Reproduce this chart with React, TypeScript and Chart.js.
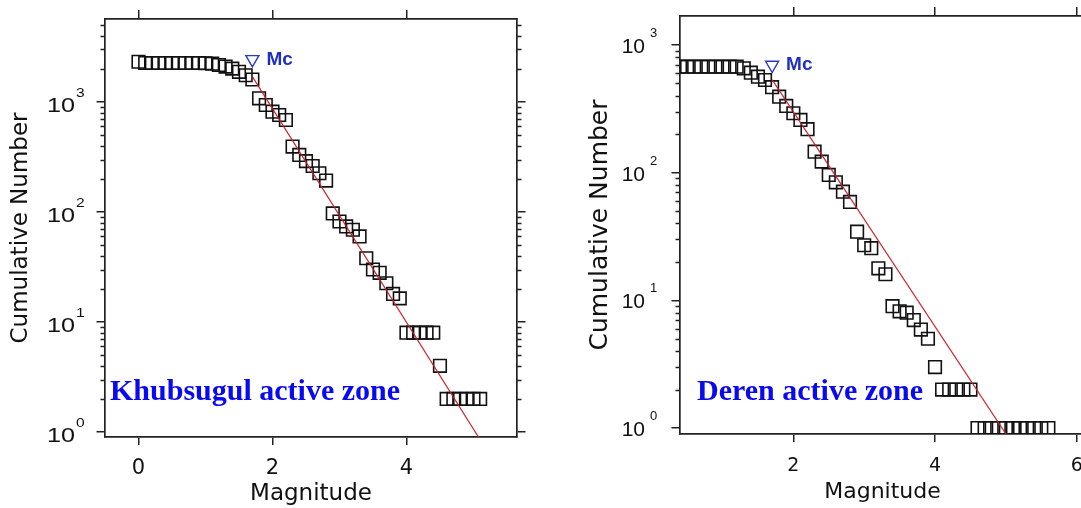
import React, { useEffect, useRef } from "react";
import { Chart, registerables } from "chart.js";

Chart.register(...registerables);

// ---------------- Data ----------------
// Khubsugul active zone
const khubMag = [
  0.0, 0.1, 0.2, 0.3, 0.4, 0.5, 0.6, 0.7, 0.8, 0.9,
  1.0, 1.1, 1.2, 1.3, 1.4, 1.5, 1.6, 1.7, 1.8, 1.9,
  2.0, 2.1, 2.2, 2.3, 2.4, 2.5, 2.6, 2.7, 2.8, 2.9,
  3.0, 3.1, 3.2, 3.3, 3.4, 3.5, 3.6, 3.7, 3.8, 3.9,
  4.0, 4.1, 4.2, 4.3, 4.4, 4.5, 4.6, 4.7, 4.8, 4.9,
  5.0, 5.1,
];
const khubCount = [
  2320, 2260, 2260, 2260, 2260, 2260, 2260, 2260, 2260, 2260,
  2250, 2230, 2170, 2100, 2010, 1880, 1750, 1600, 1080, 939,
  816, 762, 686, 393, 330, 290, 262, 225, 193, 97,
  82, 74, 69, 60, 38, 30, 28, 22.5, 18, 16.4,
  8, 8, 8, 8, 8, 4, 2, 2, 2, 2,
  2, 2,
];
const khubFitMag = [1.7, 5.2];
const khubFitCount = [1700, 0.68];
const khubMcMag = [1.7];
const khubMcCount = [2440];

// Deren active zone
const derenMag = [
  0.4, 0.5, 0.6, 0.7, 0.8, 0.9, 1.0, 1.1, 1.2, 1.3,
  1.4, 1.5, 1.6, 1.7, 1.8, 1.9, 2.0, 2.1, 2.2, 2.3,
  2.4, 2.5, 2.6, 2.7, 2.8, 2.9, 3.0, 3.1, 3.2, 3.3,
  3.4, 3.5, 3.6, 3.7, 3.8, 3.9, 4.0, 4.1, 4.2, 4.3,
  4.4, 4.5, 4.6, 4.7, 4.8, 4.9, 5.0, 5.1, 5.2, 5.3,
  5.4, 5.5, 5.6,
];
const derenCount = [
  676, 676, 676, 676, 676, 676, 676, 676, 676, 656,
  607, 565, 532, 467, 394, 333, 292, 259, 219, 146,
  122, 96, 84, 71, 59, 34.5, 27, 25.6, 17.8, 16,
  9, 8.2, 8.0, 7.0, 5.9, 5.0, 3.0, 2, 2, 2,
  2, 2, 1, 1, 1, 1, 1, 1, 1, 1,
  1, 1, 1,
];
const derenFitMag = [1.7, 5.1];
const derenFitCount = [535, 0.74];
const derenMcMag = [1.7];
const derenMcCount = [697];

// Ticks / labels
const khubXTicks = [0, 2, 4];
const derenXTicks = [2, 4, 6];
const yMajorTicks = [1, 10, 100, 1000];
const yMajorExponents = ["0", "1", "2", "3"];
const yMinorTicks = [
  2, 3, 4, 5, 6, 7, 8, 9,
  20, 30, 40, 50, 60, 70, 80, 90,
  200, 300, 400, 500, 600, 700, 800, 900,
  2000, 3000, 4000, 5000,
];
const xTitle = "Magnitude";
const yTitle = "Cumulative Number";
const mcLabel = "Mc";

// ---------------- Styling ----------------
const SANS = "'DejaVu Sans', 'Liberation Sans', Arial, sans-serif";
const ARIAL = "'Liberation Sans', Arial, sans-serif";
const SERIF = "'Liberation Serif', 'Times New Roman', serif";
const AXIS = "#222222";
const TEXT = "#111111";

type Panel = {
  mag: number[];
  count: number[];
  fitMag: number[];
  fitCount: number[];
  mcMag: number[];
  mcCount: number[];
  xTicks: number[];
  zone: string;
  xMin: number;
  xMax: number;
  yMin: number;
  yMax: number;
  leftW: number;
  topH: number;
  bottomH: number;
  rightW: number; // 0 => no right axis
  padRight: number;
  tickFont: number;
  tickPad: number;
  xTitleFont: number;
  xTitlePadB: number;
  yTitleFont: number;
  yTitlePad: number;
  lblSX: number;
  tenRight: number;
  expLeft: number;
  tenDy: number;
  expDy: number;
  tenFont: number;
  expFont: number;
  zoneDx: number;
  zoneDy: number;
  zoneFont: number;
  mcFont: number;
};

const overlayPlugin = {
  id: "overlay",
  afterDraw(chart: any) {
    const p: Panel = chart.options.plugins.overlay.panel;
    const ctx: CanvasRenderingContext2D = chart.ctx;
    const y = chart.scales.y;
    const x = chart.scales.x;
    const area = chart.chartArea;
    ctx.save();
    // minor ticks on log axis
    ctx.strokeStyle = AXIS;
    ctx.lineWidth = 1.3;
    ctx.beginPath();
    for (const v of yMinorTicks) {
      if (v < y.min || v > y.max) continue;
      const py = Math.round(y.getPixelForValue(v)) + 0.5;
      ctx.moveTo(area.left - 4.5, py);
      ctx.lineTo(area.left, py);
      if (p.rightW > 0) {
        ctx.moveTo(area.right, py);
        ctx.lineTo(area.right + 4.5, py);
      }
    }
    ctx.stroke();

    // y tick labels 10^n
    ctx.fillStyle = TEXT;
    ctx.textBaseline = "alphabetic";
    yMajorTicks.forEach((v, i) => {
      if (v < y.min || v > y.max) return;
      const py = y.getPixelForValue(v);
      ctx.save();
      ctx.translate(area.left - p.tenRight, py + p.tenDy);
      ctx.scale(p.lblSX, 1);
      ctx.font = `${p.tenFont}px ${ARIAL}`;
      ctx.textAlign = "right";
      ctx.fillText("10", 0, 0);
      ctx.restore();
      ctx.save();
      ctx.translate(area.left - p.expLeft, py + p.expDy);
      ctx.scale(p.lblSX, 1);
      ctx.font = `${p.expFont}px ${ARIAL}`;
      ctx.textAlign = "left";
      ctx.fillText(yMajorExponents[i], 0, 0);
      ctx.restore();
    });

    // Mc label
    if (p.mcMag.length) {
      const mx = x.getPixelForValue(p.mcMag[0]);
      const my = y.getPixelForValue(p.mcCount[0]);
      ctx.fillStyle = "#1f2fc0";
      ctx.font = `bold ${p.mcFont}px ${ARIAL}`;
      ctx.textAlign = "left";
      ctx.textBaseline = "middle";
      ctx.fillText(mcLabel, mx + 14, my);
    }

    // zone label
    ctx.fillStyle = "#0a0af0";
    ctx.font = `bold ${p.zoneFont}px ${SERIF}`;
    ctx.textAlign = "left";
    ctx.textBaseline = "alphabetic";
    ctx.fillText(p.zone, area.left + p.zoneDx, area.bottom - p.zoneDy);
    ctx.restore();
  },
};

function buildConfig(p: Panel): any {
  const setTicks = (vals: number[]) => (scale: any) => {
    scale.ticks = vals.map((v) => ({ value: v }));
  };
  const grid = (len: number) => ({
    drawOnChartArea: false,
    drawTicks: true,
    tickLength: len,
    tickWidth: 1.5,
    tickColor: AXIS,
    color: AXIS,
    lineWidth: 1.5,
  });
  const border = { display: true, color: AXIS, width: 1.7 };

  const scales: any = {
    x: {
      type: "linear",
      position: "bottom",
      min: p.xMin,
      max: p.xMax,
      bounds: "data",
      afterBuildTicks: setTicks(p.xTicks),
      afterFit: (s: any) => {
        s.height = p.bottomH;
      },
      grid: grid(8),
      border,
      ticks: {
        color: TEXT,
        font: { family: SANS, size: p.tickFont },
        padding: p.tickPad,
        maxRotation: 0,
        autoSkip: false,
        callback: (v: any) => String(v),
      },
      title: {
        display: true,
        text: xTitle,
        color: TEXT,
        font: { family: SANS, size: p.xTitleFont },
        padding: { top: 0, bottom: p.xTitlePadB },
      },
    },
    xTop: {
      type: "linear",
      position: "top",
      min: p.xMin,
      max: p.xMax,
      bounds: "data",
      afterBuildTicks: setTicks(p.xTicks),
      afterFit: (s: any) => {
        s.height = p.topH;
      },
      grid: grid(9),
      border,
      ticks: { display: false },
    },
    y: {
      type: "logarithmic",
      position: "left",
      min: p.yMin,
      max: p.yMax,
      bounds: "data",
      afterBuildTicks: setTicks(yMajorTicks.filter((v) => v >= p.yMin && v <= p.yMax)),
      afterFit: (s: any) => {
        s.width = p.leftW;
      },
      grid: grid(8.5),
      border,
      ticks: { display: false },
      title: {
        display: true,
        text: yTitle,
        color: TEXT,
        font: { family: SANS, size: p.yTitleFont },
        padding: { top: p.yTitlePad, bottom: 0 },
      },
    },
  };
  if (p.rightW > 0) {
    scales.yRight = {
      type: "logarithmic",
      position: "right",
      min: p.yMin,
      max: p.yMax,
      bounds: "data",
      afterBuildTicks: setTicks(yMajorTicks.filter((v) => v >= p.yMin && v <= p.yMax)),
      afterFit: (s: any) => {
        s.width = p.rightW;
      },
      grid: grid(8.5),
      border,
      ticks: { display: false },
    };
  }

  return {
    type: "scatter",
    data: {
      datasets: [
        {
          label: "fit",
          data: p.fitMag.map((m, i) => ({ x: m, y: p.fitCount[i] })),
          showLine: true,
          borderColor: "rgba(200,30,40,0.95)",
          borderWidth: 1.2,
          pointRadius: 0,
          clip: 0,
          order: 0,
        },
        {
          label: "Mc",
          data: p.mcMag.map((m, i) => ({ x: m, y: p.mcCount[i] })),
          showLine: false,
          pointStyle: "triangle",
          pointRotation: 180,
          pointRadius: 7.5,
          pointBorderColor: "#2a3ac8",
          pointBackgroundColor: "rgba(0,0,0,0)",
          pointBorderWidth: 1.4,
          order: 1,
        },
        {
          label: "Cumulative number",
          data: p.mag.map((m, i) => ({ x: m, y: p.count[i] })),
          showLine: false,
          pointStyle: "rect",
          pointRadius: 8.9,
          pointBorderColor: "#111111",
          pointBackgroundColor: "rgba(0,0,0,0)",
          pointBorderWidth: 1.6,
          order: 2,
        },
      ],
    },
    options: {
      animation: false,
      responsive: false,
      maintainAspectRatio: false,
      events: [],
      layout: { padding: { left: 0, right: p.padRight, top: 0, bottom: 0 } },
      plugins: {
        legend: { display: false },
        tooltip: { enabled: false },
        overlay: { panel: p },
      },
      scales,
    },
    plugins: [overlayPlugin],
  };
}

const khubPanel: Panel = {
  mag: khubMag,
  count: khubCount,
  fitMag: khubFitMag,
  fitCount: khubFitCount,
  mcMag: khubMcMag,
  mcCount: khubMcCount,
  xTicks: khubXTicks,
  zone: "Khubsugul active zone",
  xMin: -0.5,
  xMax: 5.65,
  yMin: 0.901,
  yMax: 5680,
  leftW: 105,
  topH: 19,
  bottomH: 71,
  rightW: 23,
  padRight: 0,
  tickFont: 21,
  tickPad: 11,
  xTitleFont: 23,
  xTitlePadB: 0,
  yTitleFont: 23,
  yTitlePad: 7,
  lblSX: 1.2,
  tenRight: 30,
  expLeft: 29,
  tenDy: 10,
  expDy: -5,
  tenFont: 21,
  expFont: 13,
  zoneDx: 5,
  zoneDy: 37,
  zoneFont: 30,
  mcFont: 19,
};

const derenPanel: Panel = {
  mag: derenMag,
  count: derenCount,
  fitMag: derenFitMag,
  fitCount: derenFitCount,
  mcMag: derenMcMag,
  mcCount: derenMcCount,
  xTicks: derenXTicks,
  zone: "Deren active zone",
  xMin: 0.4,
  xMax: 6.117,
  yMin: 0.897,
  yMax: 1687,
  leftW: 110,
  topH: 16,
  bottomH: 74,
  rightW: 0,
  padRight: 15,
  tickFont: 19,
  tickPad: 13,
  xTitleFont: 22,
  xTitlePadB: 3,
  yTitleFont: 25,
  yTitlePad: 15,
  lblSX: 1.0,
  tenRight: 35,
  expLeft: 30,
  tenDy: 8,
  expDy: -8,
  tenFont: 21,
  expFont: 13,
  zoneDx: 17,
  zoneDy: 34,
  zoneFont: 30,
  mcFont: 19,
};

function ChartCanvas({ panel, left, width }: { panel: Panel; left: number; width: number }) {
  const ref = useRef<HTMLCanvasElement | null>(null);
  useEffect(() => {
    if (!ref.current) return;
    const chart = new Chart(ref.current, buildConfig(panel));
    return () => chart.destroy();
  }, [panel]);
  return (
    <canvas
      ref={ref}
      width={width}
      height={508}
      style={{ position: "absolute", left, top: 0, width, height: 508, display: "block" }}
    />
  );
}

export default function App() {
  return (
    <div
      style={{
        position: "fixed",
        left: 0,
        top: 0,
        width: 1081,
        height: 508,
        overflow: "hidden",
        background: "#ffffff",
      }}
    >
      <ChartCanvas panel={khubPanel} left={0} width={540} />
      <ChartCanvas panel={derenPanel} left={570} width={530} />
    </div>
  );
}
